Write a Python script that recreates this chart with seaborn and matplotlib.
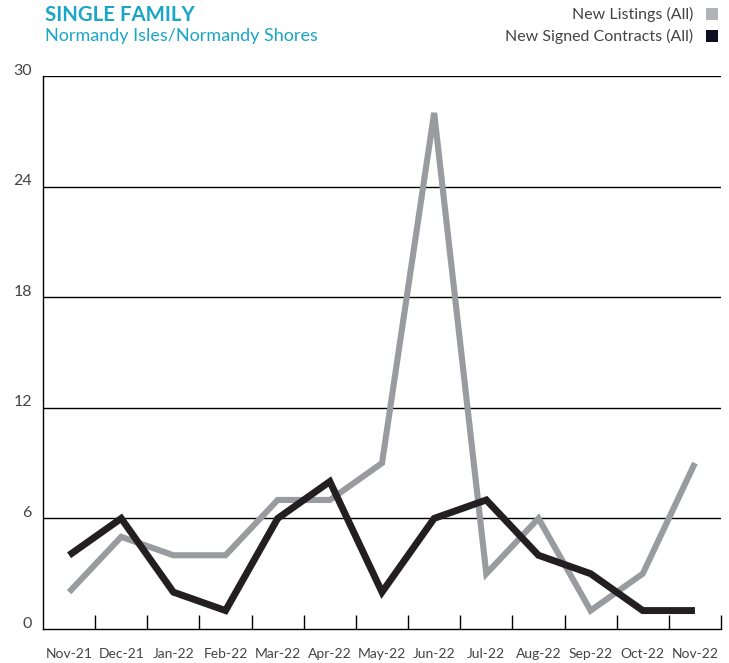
"""
Single family: new listings vs new signed contracts, Normandy Isles/Normandy Shores.
"""
import numpy as np
import pandas as pd
import matplotlib
matplotlib.use("Agg")
import matplotlib.pyplot as plt
import matplotlib.transforms as mtrans
from matplotlib.patches import Rectangle
import seaborn as sns

months = ["Nov-21", "Dec-21", "Jan-22", "Feb-22", "Mar-22", "Apr-22", "May-22",
          "Jun-22", "Jul-22", "Aug-22", "Sep-22", "Oct-22", "Nov-22"]
new_listings = [2, 5, 4, 4, 7, 7, 9, 28, 3, 6, 1, 3, 9]
signed_contracts = [4, 6, 2, 1, 6, 8, 2, 6, 7, 4, 3, 1, 1]
y_ticks = [0, 6, 12, 18, 24, 30]

TEAL = "#1aa6c6"
GREY_LINE = "#9a9b9f"
BLACK_LINE = "#231f20"
TXT = "#444444"

sns.set_theme(style="white")
plt.rcParams["font.family"] = ["Lato", "DejaVu Sans"]

df = pd.DataFrame({
    "idx": np.arange(len(months)),
    "month": months,
    "listings": new_listings,
    "contracts": signed_contracts,
})

fig = plt.figure(figsize=(7.29, 6.63), dpi=100)
ax = fig.add_axes([43 / 729, 1 - 629 / 663, (721 - 43) / 729, (629 - 76) / 663])

for y in y_ticks[1:]:
    ax.axhline(y, color="black", lw=1.0, zorder=1)

sns.lineplot(data=df, x="idx", y="listings", ax=ax, color=GREY_LINE, lw=4.4,
             sort=False, solid_joinstyle="miter", solid_capstyle="butt", zorder=3)
sns.lineplot(data=df, x="idx", y="contracts", ax=ax, color=BLACK_LINE, lw=5.0,
             sort=False, solid_joinstyle="miter", solid_capstyle="butt", zorder=4)

ax.set_xlim(-0.5, len(months) - 0.5)
ax.set_ylim(0, 30)
ax.set_xlabel("")
ax.set_ylabel("")

ax.set_xticks(df["idx"])
ax.set_xticklabels(months, fontsize=10, color=TXT)
ax.set_xticks(np.arange(len(months)) + 0.5, minor=True)
ax.tick_params(axis="x", which="major", length=0, pad=14)
ax.tick_params(axis="x", which="minor", direction="in", length=10, width=1.0,
               color="black", bottom=True)

ax.set_yticks(y_ticks)
ax.set_yticklabels([str(v) for v in y_ticks], fontsize=11.5, color=TXT)
ax.tick_params(axis="y", length=0, pad=8)
shift = mtrans.ScaledTranslation(0, 5 / 72, fig.dpi_scale_trans)
for lab in ax.get_yticklabels():
    lab.set_transform(lab.get_transform() + shift)

for side in ["top", "right"]:
    ax.spines[side].set_visible(False)
for side in ["left", "bottom"]:
    ax.spines[side].set_color("black")
    ax.spines[side].set_linewidth(1.0)

# titles
fig.text(45 / 729, 1 - 15 / 663, "SINGLE FAMILY", fontsize=14.7, fontweight="bold",
         color=TEAL, va="center", ha="left")
fig.text(45 / 729, 1 - 36 / 663, "Normandy Isles/Normandy Shores", fontsize=13,
         color=TEAL, va="center", ha="left")

# legend
legend_items = [("New Listings (All)", "#b1b2b8", 14),
                ("New Signed Contracts (All)", "#0e1022", 36)]
for label, col, ypx in legend_items:
    fig.text(693 / 729, 1 - ypx / 663, label, fontsize=11.5, color=TXT,
             ha="right", va="center")
    fig.patches.append(Rectangle((706 / 729, 1 - (ypx + 6) / 663), 12 / 729, 12 / 663,
                                 transform=fig.transFigure, facecolor=col,
                                 edgecolor="none"))

fig.savefig("out.png", dpi=100)
